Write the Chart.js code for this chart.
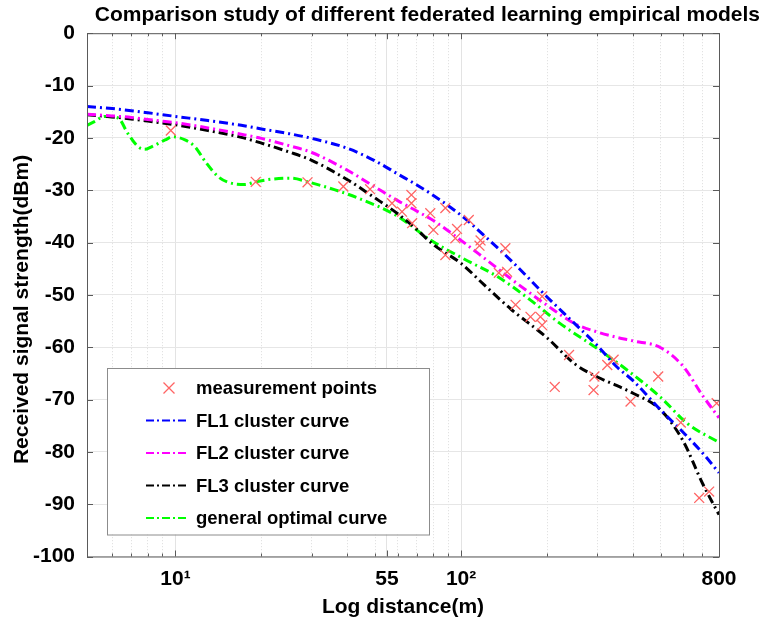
<!DOCTYPE html>
<html>
<head>
<meta charset="utf-8">
<script src="https://cdn.jsdelivr.net/npm/chart.js@4.4.1/dist/chart.umd.min.js"></script>
<style>
  body { margin: 0; background: #fff; }
  #wrap { width: 765px; height: 630px; position: relative; }
</style>
</head>
<body>
<div id="wrap"><canvas id="myChart"></canvas></div>
<script>
// distances (m) for the fitted cluster curves
const distFL = [4.9, 6, 7, 8, 10, 13, 17, 20, 25, 30, 40, 50, 60, 70, 80, 100, 120, 150, 200, 250, 300, 350, 400, 500, 600, 700, 800];
const fl1 = [-14.0, -14.4, -14.8, -15.2, -15.9, -16.7, -17.6, -18.3, -19.2, -20.1, -22.0, -24.4, -26.9, -29.0, -31.0, -34.8, -38.6, -43.5, -50.4, -55.5, -59.7, -63.7, -66.4, -72.0, -76.3, -80.2, -84.0];
const fl2 = [-15.5, -15.8, -16.1, -16.5, -17.1, -18.1, -19.3, -20.1, -21.5, -22.8, -26.2, -29.4, -32.0, -34.0, -35.8, -39.6, -42.9, -47.0, -52.0, -55.5, -57.1, -58.1, -58.8, -60.1, -63.7, -69.2, -73.5];
const fl3 = [-15.6, -16.0, -16.4, -16.8, -17.5, -18.6, -19.9, -21.0, -22.7, -24.3, -28.0, -31.5, -34.5, -37.5, -40.4, -44.0, -48.0, -52.8, -58.2, -63.2, -65.7, -67.3, -68.8, -72.0, -78.0, -86.0, -92.0];

// general optimal curve (own sampling, it wiggles at short range)
const distGeneral = [4.9, 5.2, 5.65, 6.3, 6.8, 7.4, 7.8, 8.25, 9.2, 9.8, 10.8, 11.7, 12.7, 14.1, 15.3, 17.5, 19.1, 21.7, 25.5, 29, 36, 45.5, 60, 78, 102, 134, 175, 220, 304, 382, 500, 620, 800];
const general = [-17.6, -16.9, -15.9, -16.2, -19.1, -21.7, -22.2, -21.7, -20.4, -19.8, -20.4, -21.7, -24.5, -27.4, -28.5, -28.9, -28.4, -27.9, -27.7, -28.4, -29.9, -31.9, -35.0, -39.5, -43.1, -46.5, -51.0, -55.3, -60.5, -64.4, -69.6, -74.6, -78.2];

// measurement points
const measDist = [9.63, 19.1, 29.0, 38.7, 48.0, 57.3, 62.1, 67.0, 67.0, 67.4, 78.0, 80.0, 88.1, 88.1, 96.8, 95.5, 106.4, 117, 116, 142.9, 135.6, 144.9, 192.2, 155.2, 175, 189.6, 192.2, 238.8, 212.8, 293, 291, 325, 342, 392, 490, 588, 682, 739, 785];
const measRss = [-18.6, -28.4, -28.5, -29.3, -29.8, -32.5, -34.1, -30.9, -32.5, -36.3, -34.4, -37.6, -33.4, -42.4, -37.4, -39.2, -35.7, -39.6, -40.6, -41.1, -45.8, -45.6, -50.3, -51.9, -54.2, -54.2, -55.8, -61.5, -67.6, -65.6, -68.2, -63.4, -62.4, -70.4, -65.6, -74.4, -88.8, -87.6, -70.7];

// axis ticks
const xGridValues = [6, 7, 8, 9, 10, 20, 30, 40, 50, 55, 60, 70, 80, 90, 100, 200, 300, 400, 500, 600, 700, 800];
const xTickLabels = { 10: '10¹', 55: '55', 100: '10²', 800: '800' };
const yMin = -100, yMax = 0, yStep = 10;

const FONT = '"Liberation Sans", Arial, Helvetica, sans-serif';
const dashDot = [9, 4, 2, 4];

function pts(xs, ys) {
    return xs.map((x, i) => ({ x: x, y: ys[i] }));
}

function curve(label, xs, ys, color) {
    return {
        type: 'line',
        label: label,
        data: pts(xs, ys),
        borderColor: color,
        backgroundColor: color,
        borderWidth: 3,
        borderDash: dashDot,
        pointRadius: 0,
        cubicInterpolationMode: 'monotone',
        fill: false
    };
}

// box around the axes + little inward ticks like MATLAB
const boxPlugin = {
    id: 'box',
    afterDatasetsDraw(chart) {
        const { ctx, chartArea: a, scales } = chart;
        ctx.save();
        ctx.strokeStyle = '#5a5a5a';
        ctx.lineWidth = 1;
        ctx.setLineDash([]);
        ctx.strokeRect(a.left + 0.5, a.top + 0.5, a.right - a.left, a.bottom - a.top);
        ctx.beginPath();
        scales.x.ticks.forEach(t => {
            const px = Math.round(scales.x.getPixelForValue(t.value)) + 0.5;
            const len = xTickLabels[t.value] ? 6 : 3;
            ctx.moveTo(px, a.bottom); ctx.lineTo(px, a.bottom - len);
            ctx.moveTo(px, a.top); ctx.lineTo(px, a.top + len);
        });
        scales.y.ticks.forEach(t => {
            const py = Math.round(scales.y.getPixelForValue(t.value)) + 0.5;
            ctx.moveTo(a.left, py); ctx.lineTo(a.left + 6, py);
            ctx.moveTo(a.right, py); ctx.lineTo(a.right - 6, py);
        });
        ctx.stroke();
        ctx.restore();
    }
};

// legend box inside the plot, lower left
const legendPlugin = {
    id: 'boxLegend',
    afterDraw(chart) {
        const { ctx, chartArea: a } = chart;
        const sets = chart.data.datasets;
        const rowH = 32.5;
        const left = a.left + 20, right = a.left + 342;
        const bottom = a.bottom - 22;
        const top = bottom - rowH * sets.length - 4;
        ctx.save();
        ctx.fillStyle = '#fff';
        ctx.fillRect(left, top, right - left, bottom - top);
        ctx.strokeStyle = '#8c8c8c';
        ctx.lineWidth = 1;
        ctx.strokeRect(left + 0.5, top + 0.5, right - left, bottom - top);
        ctx.font = 'bold 18.5px ' + FONT;
        ctx.textBaseline = 'middle';
        sets.forEach((ds, i) => {
            const y = top + 20 + i * rowH;
            if (ds.type === 'scatter') {
                ctx.strokeStyle = ds.borderColor;
                ctx.lineWidth = 1.3;
                const cx = left + 62, r = 5.5;
                ctx.beginPath();
                ctx.moveTo(cx - r, y - r); ctx.lineTo(cx + r, y + r);
                ctx.moveTo(cx + r, y - r); ctx.lineTo(cx - r, y + r);
                ctx.stroke();
            } else {
                ctx.strokeStyle = ds.borderColor;
                ctx.lineWidth = 2;
                ctx.setLineDash([8, 3, 2, 3]);
                ctx.beginPath();
                ctx.moveTo(left + 39, y); ctx.lineTo(left + 82, y);
                ctx.stroke();
                ctx.setLineDash([]);
            }
            ctx.fillStyle = '#000';
            ctx.fillText(ds.label, left + 89, y + 1);
        });
        ctx.restore();
    }
};

const ctx = document.getElementById('myChart').getContext('2d');
const myChart = new Chart(ctx, {
    data: {
        datasets: [
            {
                type: 'scatter',
                label: 'measurement points',
                data: pts(measDist, measRss),
                borderColor: '#ff6464',
                backgroundColor: '#ff6464',
                pointStyle: 'crossRot',
                pointRadius: 7,
                pointBorderWidth: 1.3,
                showLine: false
            },
            curve('FL1 cluster curve', distFL, fl1, '#0000ff'),
            curve('FL2 cluster curve', distFL, fl2, '#ff00ff'),
            curve('FL3 cluster curve', distFL, fl3, '#000000'),
            curve('general optimal curve', distGeneral, general, '#00ff00')
        ]
    },
    options: {
        responsive: true,
        maintainAspectRatio: false,
        animation: false,
        layout: { padding: { left: 0, right: 5, top: 0, bottom: 0 } },
        plugins: {
            legend: { display: false },
            tooltip: { enabled: false },
            title: {
                display: true,
                text: 'Comparison study of different federated learning empirical models',
                align: 'end',
                color: '#000',
                font: { family: FONT, size: 21, weight: 'bold' },
                padding: { top: 3, bottom: 5 }
            }
        },
        scales: {
            x: {
                type: 'logarithmic',
                min: 4.9,
                max: 800,
                afterBuildTicks: s => { s.ticks = xGridValues.map(v => ({ value: v })); },
                afterFit: s => { s.height = 73.5; },
                ticks: {
                    autoSkip: false,
                    maxRotation: 0,
                    padding: 10,
                    color: '#000',
                    font: { family: FONT, size: 21, weight: 'bold' },
                    callback: v => xTickLabels[v] || ''
                },
                grid: {
                    drawTicks: false,
                    color: c => (c.tick && xTickLabels[c.tick.value] && c.tick.value !== 800) ? '#e3e3e3' : '#dcdcdc',
                    lineWidth: 1
                },
                border: {
                    display: false,
                    dash: c => (c.tick && !xTickLabels[c.tick.value]) ? [1, 2] : []
                },
                title: {
                    display: true,
                    text: 'Log distance(m)',
                    color: '#000',
                    font: { family: FONT, size: 21, weight: 'bold' },
                    padding: { top: 0, bottom: 10 }
                }
            },
            y: {
                min: yMin,
                max: yMax,
                afterFit: s => { s.width = 87; },
                ticks: {
                    stepSize: yStep,
                    padding: 12,
                    color: '#000',
                    font: { family: FONT, size: 21, weight: 'bold' },
                    callback: v => String(v)
                },
                grid: { drawTicks: false, color: '#e6e6e6', lineWidth: 1 },
                border: { display: false },
                title: {
                    display: true,
                    // trailing spaces nudge the label down a little, like the original
                    text: 'Received signal strength(dBm)     ',
                    color: '#000',
                    font: { family: FONT, size: 21, weight: 'bold' },
                    padding: { top: 10, bottom: 0 }
                }
            },
            yRight: {
                position: 'right',
                display: true,
                afterFit: s => { s.width = 41; },
                ticks: { display: false },
                grid: { display: false, drawTicks: false },
                border: { display: false }
            }
        }
    },
    plugins: [boxPlugin, legendPlugin]
});
</script>
</body>
</html>
